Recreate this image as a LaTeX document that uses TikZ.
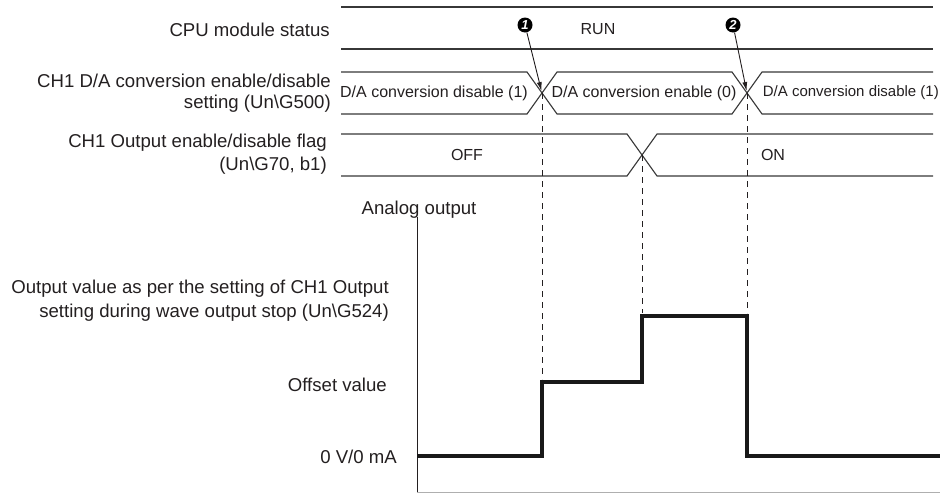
\documentclass[tikz,border=0pt]{standalone}
\usepackage{fontspec}
\setmainfont{Liberation Sans}
\usetikzlibrary{arrows.meta}
\definecolor{txt}{RGB}{35,31,32}
\definecolor{linegray}{RGB}{55,55,55}
\definecolor{axisgray}{RGB}{175,175,175}
\begin{document}
\begin{tikzpicture}[x=1pt,y=-1pt,
  sig/.style={draw=linegray, line width=1.1pt},
  lbl/.style={font=\fontsize{18.6}{22.5}\selectfont, text=txt, align=right, inner sep=0pt},
  rowtxt/.style={font=\fontsize{16}{19}\selectfont, text=txt, inner sep=0pt},
  guide/.style={draw=txt, line width=0.9pt, dash pattern=on 6pt off 5pt},
  marker/.style={circle, fill=black, inner sep=0pt, minimum size=15pt, text=white, font=\fontsize{13}{13}\selectfont\bfseries\itshape},
  pointer/.style={draw=txt, line width=0.9pt, shorten >=2pt, -{Latex[length=9pt,width=5pt]}},
  wave/.style={draw=black!90, line width=4pt, line join=miter},
  axisline/.style={draw=txt, line width=0.9pt}
]
\useasboundingbox (0,0) rectangle (940,493);

% labels
\node[lbl, anchor=east] (lcpu) at (330,30) {CPU module status};
\node[lbl, anchor=east, font=\fontsize{18.6}{21}\selectfont] (lda) at (331,93) {CH1 D/A conversion enable/disable\\setting (Un\textbackslash G500)};
\node[lbl, anchor=east, font=\fontsize{18.6}{23}\selectfont] (lflag) at (327,154) {CH1 Output enable/disable flag\\(Un\textbackslash G70, b1)};
\node[lbl, anchor=center] (lanalog) at (419,210) {Analog output};
\node[lbl, anchor=east, font=\fontsize{18.6}{24}\selectfont] (lout) at (389,301) {Output value as per the setting of CH1 Output\\setting during wave output stop (Un\textbackslash G524)};
\node[lbl, anchor=east] (loff) at (387,385) {Offset value};
\node[lbl, anchor=east] (lzero) at (397,457) {0 V/0 mA};

% CPU row
\draw[sig] (341,7) -- (933,7);
\draw[sig] (341,49) -- (933,49);
\node[rowtxt] (run) at (598,29) {RUN};

% D/A setting row
\draw[sig] (341,72) -- (527,72) -- (557,114) -- (732,114) -- (762,72) -- (933,72);
\draw[sig] (341,114) -- (527,114) -- (557,72) -- (732,72) -- (762,114) -- (933,114);
\node[rowtxt] (dis1) at (434,93) {D/A conversion disable (1)};
\node[rowtxt] (en0) at (644,93) {D/A conversion enable (0)};
\node[rowtxt, anchor=east, font=\fontsize{15}{18}\selectfont] (dis2) at (939,93) {D/A conversion disable (1)};

% Output enable flag row
\draw[sig] (341,134) -- (627,134) -- (657,176) -- (933,176);
\draw[sig] (341,176) -- (627,176) -- (657,134) -- (933,134);
\node[rowtxt] (off) at (467,155) {OFF};
\node[rowtxt] (on) at (773,155) {ON};

% crossing points and guide ends
\coordinate (c1) at (542,93);
\coordinate (c2) at (747,93);
\coordinate (c3) at (642,155);
\coordinate (g1) at (542,379);
\coordinate (g2) at (642,313);
\coordinate (g3) at (747,313);
\draw[guide] (c1) -- (g1);
\draw[guide] (c3) -- (g2);
\draw[guide] (c2) -- (g3);

% markers
\node[marker] (m1) at (525,25) {1};
\node[marker] (m2) at (733,25) {2};
\draw[pointer] (m1) -- (c1);
\draw[pointer] (m2) -- (c2);

% axes
\coordinate (ax0) at (417,217);
\coordinate (ax1) at (417,493);
\coordinate (bx1) at (940,492);
\draw[axisline] (ax0) -- (ax1);
\draw[draw=axisgray, line width=1pt] (417,492) -- (bx1);

% analog output waveform
\draw[wave] (417,456) -| (542,382) -| (642,316) -| (747,456) -- (940,456);
\end{tikzpicture}
\end{document}
